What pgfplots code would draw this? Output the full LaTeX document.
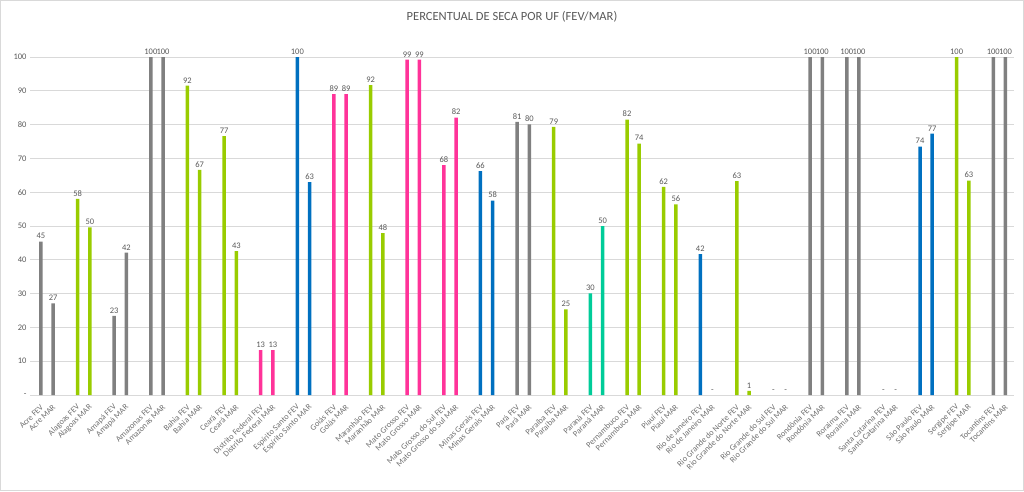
\documentclass[border=0pt]{standalone}
\usepackage{pgfplots}
\pgfplotsset{compat=1.18}
\usepackage{fontspec}
\setmainfont{Carlito}
\definecolor{cgrey}{HTML}{808080}
\definecolor{cgreen}{HTML}{99CC00}
\definecolor{cpink}{HTML}{FF3399}
\definecolor{cblue}{HTML}{0070C0}
\definecolor{cteal}{HTML}{00CC99}
\definecolor{ctext}{HTML}{595959}
\definecolor{ctick}{HTML}{6F6F6F}
\definecolor{cgrid}{HTML}{D9D9D9}
\begin{document}
\begin{tikzpicture}
\path[use as bounding box] (0,0) rectangle (1024pt,491pt);
\draw[cgrid,line width=1pt] (0.5pt,0.5pt) rectangle (1023.5pt,490.5pt);
\node[text=ctext,font=\fontsize{12.5}{14}\selectfont] at (512pt,474pt) {PERCENTUAL DE SECA POR UF (FEV/MAR)};
\begin{axis}[
  at={(30pt,96pt)}, anchor=south west,
  width=984pt, height=338pt, scale only axis,
  xmin=-0.9, xmax=79.7, ymin=0, ymax=100,
  clip=false,
  axis line style={draw=none},
  major tick length=0pt,
  ymajorgrids, grid style={cgrid, line width=0.8pt},
  ytick={0,10,...,100},
  yticklabels={-,10,20,30,40,50,60,70,80,90,100},
  yticklabel style={text=ctext,font=\fontsize{8.5}{9}\selectfont},
  xtick={0,1,3,4,6,7,9,10,12,13,15,16,18,19,21,22,24,25,27,28,30,31,33,34,36,37,39,40,42,43,45,46,48,49,51,52,54,55,57,58,60,61,63,64,66,67,69,70,72,73,75,76,78,79},
  xticklabels={Acre FEV,Acre MAR,Alagoas FEV,Alagoas MAR,Amapá FEV,Amapá MAR,Amazonas FEV,Amazonas MAR,Bahia FEV,Bahia MAR,Ceará FEV,Ceará MAR,Distrito Federal FEV,Distrito Federal MAR,Espírito Santo FEV,Espírito Santo MAR,Goiás FEV,Goiás MAR,Maranhão FEV,Maranhão MAR,Mato Grosso FEV,Mato Grosso MAR,Mato Grosso do Sul FEV,Mato Grosso do Sul MAR,Minas Gerais FEV,Minas Gerais MAR,Pará FEV,Pará MAR,Paraíba FEV,Paraíba MAR,Paraná FEV,Paraná MAR,Pernambuco FEV,Pernambuco MAR,Piauí FEV,Piauí MAR,Rio de Janeiro FEV,Rio de Janeiro MAR,Rio Grande do Norte FEV,Rio Grande do Norte MAR,Rio Grande do Sul FEV,Rio Grande do Sul MAR,Rondônia FEV,Rondônia MAR,Roraima FEV,Roraima MAR,Santa Catarina FEV,Santa Catarina MAR,São Paulo FEV,São Paulo MAR,Sergipe FEV,Sergipe MAR,Tocantins FEV,Tocantins MAR},
  xticklabel style={text=ctick,font=\fontsize{8.3}{9}\selectfont,rotate=45,anchor=east,inner sep=1pt,xshift=-6pt,yshift=-8.4pt},
  ybar, bar width=3.5pt, bar shift=0pt,
  point meta=explicit symbolic,
  nodes near coords,
  every node near coord/.append style={text=ctext,font=\fontsize{8.5}{9}\selectfont,inner sep=2.5pt},
]
\addplot[fill=cgrey,draw=none] coordinates {
 (0,45.4)[45] (1,27.1)[27]
 (6,23.4)[23] (7,42.1)[42]
 (9,100)[100] (10,100)[100]
 (39,80.8)[81] (40,80.1)[80]
 (63,100)[100] (64,100)[100]
 (66,100)[100] (67,100)[100]
 (78,100)[100] (79,100)[100]
};
\addplot[fill=cgreen,draw=none] coordinates {
 (3,58)[58] (4,49.6)[50]
 (12,91.5)[92] (13,66.6)[67]
 (15,76.6)[77] (16,42.6)[43]
 (27,91.7)[92] (28,47.9)[48]
 (42,79.3)[79] (43,25.3)[25]
 (48,81.5)[82] (49,74.4)[74]
 (51,61.6)[62] (52,56.4)[56]
 (57,63.3)[63] (58,1.2)[1]
 (75,100)[100] (76,63.4)[63]
};
\addplot[fill=cpink,draw=none] coordinates {
 (18,13.3)[13] (19,13.3)[13]
 (24,89)[89] (25,89)[89]
 (30,99.2)[99] (31,99.2)[99]
 (33,68)[68] (34,82.1)[82]
};
\addplot[fill=cblue,draw=none] coordinates {
 (21,100)[100] (22,63)[63]
 (36,66.2)[66] (37,57.5)[58]
 (54,41.7)[42]
 (72,73.5)[74] (73,77.3)[77]
};
\addplot[fill=cteal,draw=none] coordinates {
 (45,30.1)[30] (46,50)[50]
};
\addplot[fill=none,draw=none] coordinates {
 (55,0)[-] (60,0)[-] (61,0)[-] (69,0)[-] (70,0)[-]
};
\end{axis}
\end{tikzpicture}
\end{document}
